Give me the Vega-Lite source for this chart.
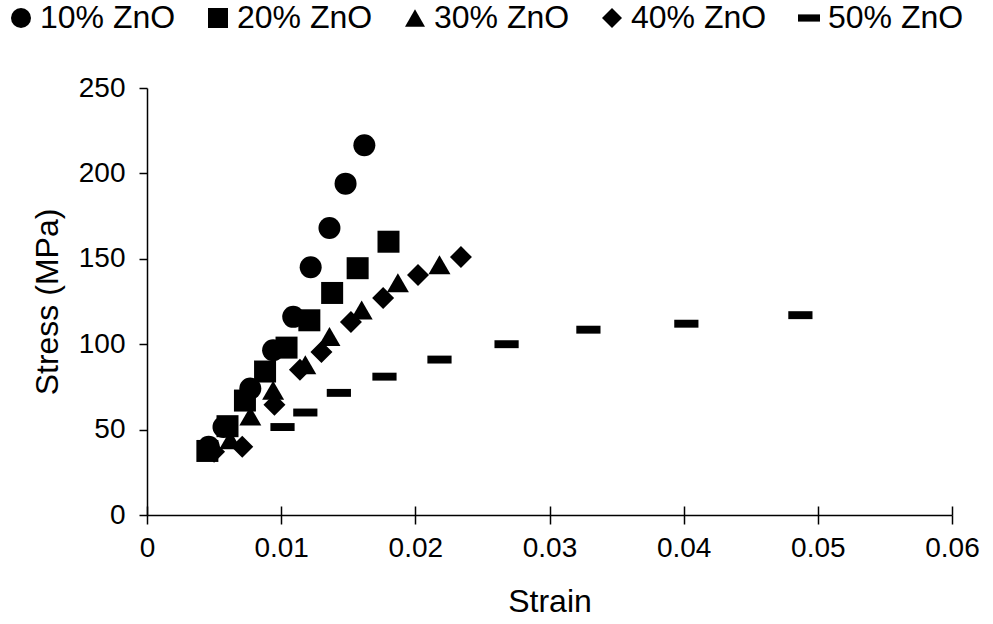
{
  "$schema": "https://vega.github.io/schema/vega-lite/v6.json",
  "width": 805,
  "height": 427,
  "autosize": {"type": "none"},
  "padding": {"left": 147, "top": 88, "right": 41, "bottom": 109},
  "background": "white",
  "config": {
    "view": {"stroke": null},
    "font": "Liberation Sans, Arial",
    "axis": {"labelFont": "Liberation Sans", "titleFont": "Liberation Sans", "labelColor": "black", "titleColor": "black", "domainColor": "black", "tickColor": "black", "grid": false, "titleFontWeight": "normal"},
    "legend": {"labelFont": "Liberation Sans"}
  },
  "data": {
    "values": [
      {"series": "10% ZnO", "strain": 0.0046, "stress": 40},
      {"series": "10% ZnO", "strain": 0.0057, "stress": 51.5},
      {"series": "10% ZnO", "strain": 0.0077, "stress": 74},
      {"series": "10% ZnO", "strain": 0.0094, "stress": 96.5},
      {"series": "10% ZnO", "strain": 0.0109, "stress": 116},
      {"series": "10% ZnO", "strain": 0.0122, "stress": 145},
      {"series": "10% ZnO", "strain": 0.0136, "stress": 168},
      {"series": "10% ZnO", "strain": 0.0148, "stress": 194},
      {"series": "10% ZnO", "strain": 0.0162, "stress": 216.5},
      {"series": "20% ZnO", "strain": 0.0045, "stress": 37.5},
      {"series": "20% ZnO", "strain": 0.0060, "stress": 52},
      {"series": "20% ZnO", "strain": 0.0073, "stress": 67},
      {"series": "20% ZnO", "strain": 0.0088, "stress": 84},
      {"series": "20% ZnO", "strain": 0.0104, "stress": 98},
      {"series": "20% ZnO", "strain": 0.0121, "stress": 114},
      {"series": "20% ZnO", "strain": 0.0138, "stress": 130},
      {"series": "20% ZnO", "strain": 0.0157, "stress": 144.5},
      {"series": "20% ZnO", "strain": 0.0180, "stress": 160},
      {"series": "30% ZnO", "strain": 0.0062, "stress": 44},
      {"series": "30% ZnO", "strain": 0.0077, "stress": 58},
      {"series": "30% ZnO", "strain": 0.0094, "stress": 73},
      {"series": "30% ZnO", "strain": 0.0118, "stress": 88},
      {"series": "30% ZnO", "strain": 0.0136, "stress": 104.5},
      {"series": "30% ZnO", "strain": 0.0160, "stress": 120},
      {"series": "30% ZnO", "strain": 0.0187, "stress": 136},
      {"series": "30% ZnO", "strain": 0.0218, "stress": 146.5},
      {"series": "40% ZnO", "strain": 0.0050, "stress": 37},
      {"series": "40% ZnO", "strain": 0.0071, "stress": 40},
      {"series": "40% ZnO", "strain": 0.0095, "stress": 64.5},
      {"series": "40% ZnO", "strain": 0.0114, "stress": 85},
      {"series": "40% ZnO", "strain": 0.0130, "stress": 95.5},
      {"series": "40% ZnO", "strain": 0.0152, "stress": 113},
      {"series": "40% ZnO", "strain": 0.0176, "stress": 127},
      {"series": "40% ZnO", "strain": 0.0202, "stress": 140.5},
      {"series": "40% ZnO", "strain": 0.0234, "stress": 151},
      {"series": "50% ZnO", "strain": 0.0101, "stress": 51.5},
      {"series": "50% ZnO", "strain": 0.0118, "stress": 60},
      {"series": "50% ZnO", "strain": 0.0143, "stress": 71.5},
      {"series": "50% ZnO", "strain": 0.0177, "stress": 81},
      {"series": "50% ZnO", "strain": 0.0218, "stress": 91},
      {"series": "50% ZnO", "strain": 0.0268, "stress": 100},
      {"series": "50% ZnO", "strain": 0.0329, "stress": 108.5},
      {"series": "50% ZnO", "strain": 0.0402, "stress": 112},
      {"series": "50% ZnO", "strain": 0.0487, "stress": 117}
    ]
  },
  "layer": [
    {
      "mark": {"type": "point", "filled": true, "opacity": 1, "size": 484, "color": "black"},
      "encoding": {
        "x": {"field": "strain", "type": "quantitative", "scale": {"domain": [0, 0.06], "nice": false},
          "axis": {"orient": "bottom", "values": [0, 0.01, 0.02, 0.03, 0.04, 0.05, 0.06], "format": "~g", "title": "Strain", "titleFontSize": 32, "titlePadding": 24, "labelFontSize": 28, "labelPadding": 10, "tickSize": 9, "domainWidth": 1.5, "tickWidth": 1.5, "labelFlush": false}},
        "y": {"field": "stress", "type": "quantitative", "scale": {"domain": [0, 250], "nice": false},
          "axis": {"values": [0, 50, 100, 150, 200, 250], "title": "Stress (MPa)", "titleFontSize": 32, "titlePadding": 14, "labelFontSize": 28, "labelPadding": 14, "tickSize": 8, "domainWidth": 1.5, "tickWidth": 1.5}},
        "shape": {"field": "series", "type": "nominal",
          "scale": {"domain": ["10% ZnO", "20% ZnO", "30% ZnO", "40% ZnO", "50% ZnO"], "range": ["circle", "square", "triangle-up", "diamond", "M-1.1,-0.36L1.1,-0.36L1.1,0.36L-1.1,0.36Z"]},
          "legend": {"title": null, "orient": "none", "legendX": -142, "legendY": -86, "direction": "horizontal", "columns": 5, "labelFontSize": 32, "symbolSize": 400, "symbolFillColor": "black", "symbolStrokeColor": "black", "symbolStrokeWidth": 0, "labelOffset": 3, "columnPadding": 26, "symbolOffset": 0, "labelColor": "black"}}
      }
    },
    {
      "mark": {"type": "point", "opacity": 0, "size": 1},
      "encoding": {
        "x": {"field": "strain", "type": "quantitative",
          "axis": {"orient": "bottom", "values": [0, 0.01, 0.02, 0.03, 0.04, 0.05, 0.06], "labels": false, "domain": false, "title": null, "tickSize": -9, "tickWidth": 1.5}},
        "y": {"field": "stress", "type": "quantitative"}
      }
    }
  ],
  "resolve": {"axis": {"x": "independent"}}
}
